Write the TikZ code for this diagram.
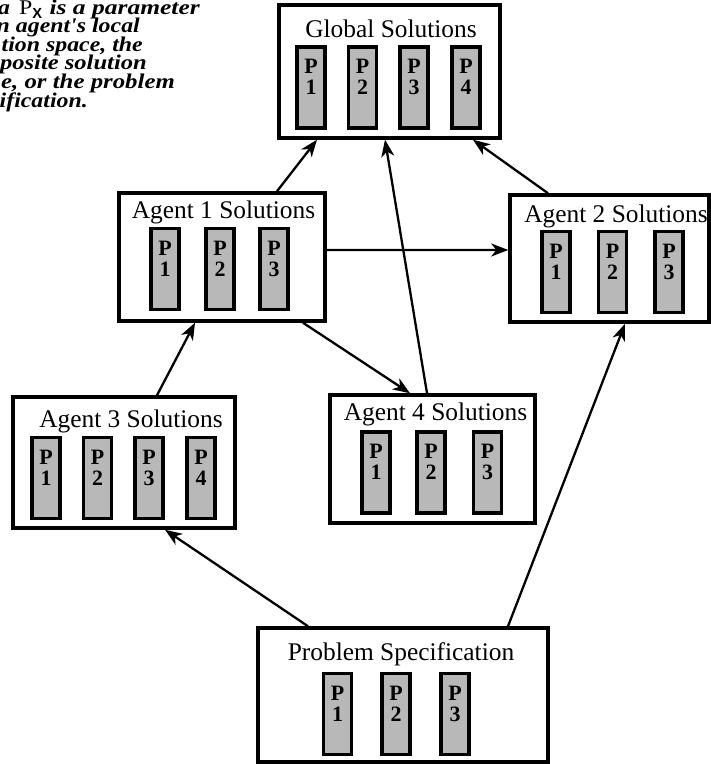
\documentclass[tikz,border=0pt]{standalone}
\usepackage{fontspec}
\setmainfont{Liberation Serif}
\setsansfont{Liberation Sans}
\newfontfamily\notefont[FakeStretch=1.14]{Liberation Serif}
\usetikzlibrary{arrows.meta}

\begin{document}
\begin{tikzpicture}[x=1bp,y=-1bp,
  solbox/.style={draw, line width=3.5bp, fill=white, inner sep=0pt},
  pbox/.style={draw, line width=3.5bp, fill=black!28, minimum width=28bp,
    minimum height=81bp, inner sep=0pt, align=center,
    font=\fontsize{22}{21}\selectfont\bfseries},
  title/.style={anchor=base, inner sep=0pt, font=\fontsize{25.5}{28}\selectfont},
  note/.style={anchor=base east, inner sep=0pt,
    font=\notefont\fontsize{21}{20}\selectfont\bfseries\itshape},
  link/.style={line width=2.3bp, -{Stealth[length=17bp,width=13bp,inset=5bp]}}]

\useasboundingbox (0,0) rectangle (711,764);
\clip (0,0) rectangle (711,764);

% explanatory note in the top left corner
\node[note, anchor=base west] (n0) at (-2,15) {a\hspace{3bp} {\upshape\mdseries P\textsubscript{\sffamily\bfseries X}}};
\node[note] (n1) at (200,15)  {\scalebox{1.07}[1]{is a parameter}};
\node[note] (n2) at (140,33)  {n agent's local};
\node[note] (n3) at (143,52)  {tion space, the};
\node[note] (n4) at (147,70)  {\scalebox{1.03}[1]{posite solution}};
\node[note] (n5) at (175,88)  {\scalebox{1.04}[1]{e, or the problem}};
\node[note] (n6) at (88,107)  {ification.};

% solution spaces
\node[solbox, minimum width=221bp, minimum height=133bp] (g)  at (389.5,71.5) {};
\node[solbox, minimum width=206bp, minimum height=128bp] (a1) at (222,257)    {};
\node[solbox, minimum width=199bp, minimum height=127bp] (a2) at (609.5,258.5) {};
\node[solbox, minimum width=222bp, minimum height=131bp] (a3) at (124,462.5)  {};
\node[solbox, minimum width=205bp, minimum height=128bp] (a4) at (432.5,459)  {};
\node[solbox, minimum width=290bp, minimum height=134bp] (ps) at (403,695)    {};

% titles
\node[title] (gt)  at (391,38)    {Global Solutions};
\node[title] (a1t) at (223.5,218) {Agent 1 Solutions};
\node[title] (a2t) at (616,222)   {Agent 2 Solutions};
\node[title] (a3t) at (131,427)   {Agent 3 Solutions};
\node[title] (a4t) at (435.5,420) {Agent 4 Solutions};
\node[title] (pst) at (401,660)   {Problem Specification};

% parameters
\node[pbox] (g1) at (311,87.5)   {P\\1\\\mbox{}};
\node[pbox] (g2) at (362.5,87.5) {P\\2\\\mbox{}};
\node[pbox] (g3) at (414,87.5)   {P\\3\\\mbox{}};
\node[pbox] (g4) at (466,87.5)   {P\\4\\\mbox{}};

\node[pbox] (a1p1) at (165,269) {P\\1\\\mbox{}};
\node[pbox] (a1p2) at (220,269) {P\\2\\\mbox{}};
\node[pbox] (a1p3) at (274,269) {P\\3\\\mbox{}};

\node[pbox] (a2p1) at (556,272)   {P\\1\\\mbox{}};
\node[pbox] (a2p2) at (612.5,272) {P\\2\\\mbox{}};
\node[pbox] (a2p3) at (669,272)   {P\\3\\\mbox{}};

\node[pbox] (a3p1) at (46,478)   {P\\1\\\mbox{}};
\node[pbox] (a3p2) at (97.5,478) {P\\2\\\mbox{}};
\node[pbox] (a3p3) at (149,478)  {P\\3\\\mbox{}};
\node[pbox] (a3p4) at (201,478)  {P\\4\\\mbox{}};

\node[pbox] (a4p1) at (376,472.5)   {P\\1\\\mbox{}};
\node[pbox] (a4p2) at (431,472.5)   {P\\2\\\mbox{}};
\node[pbox] (a4p3) at (487.5,472.5) {P\\3\\\mbox{}};

\node[pbox] (psp1) at (337.5,714) {P\\1\\\mbox{}};
\node[pbox] (psp2) at (396,714)   {P\\2\\\mbox{}};
\node[pbox] (psp3) at (455,714)   {P\\3\\\mbox{}};

% flow of solutions
\draw[link] ([xshift=55bp]a1.north)   -- ([xshift=-72.5bp]g.south);
\draw[link] ([xshift=-61.5bp]a2.north) -- ([xshift=83.5bp]g.south);
\draw[link] ([xshift=-5.5bp]a4.north) -- ([xshift=-4.5bp]g.south);
\draw[link] ([yshift=7bp]a1.east)     -- ([yshift=8.5bp]a2.west);
\draw[link] ([xshift=81bp]a1.south)   -- ([xshift=-22.5bp]a4.north);
\draw[link] ([xshift=33bp]a3.north)   -- ([xshift=-27bp]a1.south);
\draw[link] ([xshift=-95bp]ps.north)  -- ([xshift=41bp]a3.south);
\draw[link] ([xshift=105bp]ps.north)  -- ([xshift=15.5bp]a2.south);
\end{tikzpicture}
\end{document}
